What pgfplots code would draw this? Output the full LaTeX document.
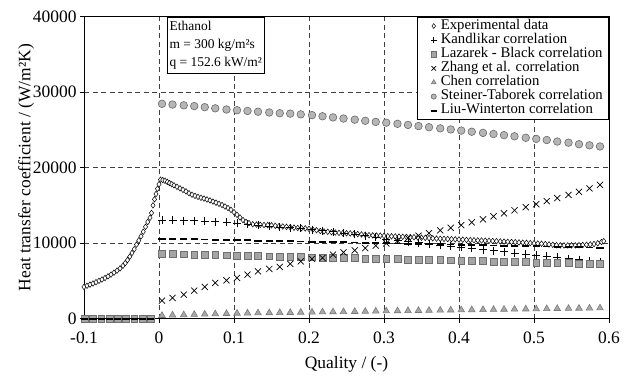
\documentclass[border=0pt]{standalone}
\usepackage{fontspec}
\setmainfont{Liberation Serif}
\usepackage{pgfplots}
\usepackage{pgfplotstable}
\pgfplotsset{compat=1.18}

\definecolor{sqfill}{HTML}{A4A4A4}
\definecolor{sqdraw}{HTML}{6E6E6E}
\definecolor{cifill}{HTML}{B6B6B6}
\definecolor{cidraw}{HTML}{6A6A6A}
\definecolor{trfill}{HTML}{A8A8A8}
\definecolor{trdraw}{HTML}{7A7A7A}

% experimental data
\pgfplotstableread{
x y
-0.100 4200
-0.096 4350
-0.092 4500
-0.088 4650
-0.084 4820
-0.080 5000
-0.076 5180
-0.072 5380
-0.068 5600
-0.064 5830
-0.060 6080
-0.056 6350
-0.052 6650
-0.048 7000
-0.045 7350
-0.042 7750
-0.039 8200
-0.036 8700
-0.033 9200
-0.030 9800
-0.027 10350
-0.024 10900
-0.021 11500
-0.018 12150
-0.015 12800
-0.012 13350
-0.010 14000
-0.008 15000
-0.006 15800
-0.004 16500
-0.002 17200
0.000 17800
0.002 18400
0.005 18350
0.008 18250
0.011 18100
0.014 17950
0.017 17800
0.020 17650
0.024 17450
0.028 17250
0.032 17050
0.036 16850
0.040 16600
0.044 16400
0.048 16250
0.052 16120
0.056 16000
0.060 15900
0.064 15780
0.068 15650
0.072 15500
0.076 15350
0.080 15200
0.084 15050
0.088 14850
0.092 14650
0.096 14400
0.100 14100
0.104 13750
0.108 13400
0.112 13050
0.116 12800
0.120 12650
0.125 12500
0.130 12450
0.135 12420
0.140 12400
0.145 12380
0.150 12350
0.155 12300
0.160 12250
0.165 12200
0.170 12150
0.175 12100
0.180 12050
0.185 12000
0.190 11980
0.195 11950
0.200 11880
0.205 11800
0.210 11700
0.215 11600
0.220 11550
0.225 11500
0.230 11450
0.235 11400
0.240 11350
0.245 11300
0.250 11300
0.255 11280
0.260 11250
0.265 11200
0.270 11150
0.275 11100
0.280 11050
0.285 11030
0.290 11000
0.295 10980
0.300 10950
0.305 10920
0.310 10900
0.315 10880
0.320 10860
0.325 10840
0.330 10820
0.335 10800
0.340 10780
0.345 10750
0.350 10720
0.355 10690
0.360 10660
0.365 10630
0.370 10600
0.375 10580
0.380 10560
0.385 10540
0.390 10520
0.395 10500
0.400 10480
0.405 10450
0.410 10420
0.415 10400
0.420 10380
0.425 10360
0.430 10340
0.435 10320
0.440 10300
0.445 10280
0.450 10250
0.455 10220
0.460 10200
0.465 10180
0.470 10150
0.475 10120
0.480 10090
0.485 10060
0.490 10030
0.495 10000
0.500 9980
0.505 9950
0.510 9920
0.515 9880
0.520 9830
0.525 9780
0.530 9730
0.535 9700
0.540 9690
0.545 9690
0.550 9700
0.555 9700
0.560 9720
0.565 9750
0.570 9780
0.575 9820
0.580 9880
0.585 9980
0.590 10150
0.593 10250
}\expdata

% correlations
\pgfplotstableread{
x kand laz zhang chen steiner liu
-0.099 0 0 nan nan nan 0
-0.088 0 0 nan nan nan 0
-0.077 0 0 nan nan nan 0
-0.066 0 0 nan nan nan 0
-0.055 0 0 nan nan nan 0
-0.044 0 0 nan nan nan 0
-0.033 0 0 nan nan nan 0
-0.022 0 0 nan nan nan 0
-0.011 0 0 nan nan nan 0
0.004 13050 8590 2380 400 28450 10590
0.018 13000 8560 2730 450 28350 10560
0.033 12980 8520 3170 500 28250 10530
0.047 12950 8490 3700 540 28150 10500
0.061 12900 8460 4190 580 28000 10480
0.075 12850 8430 4720 620 27850 10450
0.090 12750 8390 5070 660 27700 10420
0.104 12650 8360 5380 700 27600 10390
0.118 12500 8330 5820 720 27500 10360
0.132 12400 8300 6260 740 27400 10330
0.147 12250 8260 6570 760 27300 10300
0.161 12150 8230 6840 780 27200 10270
0.175 12050 8200 7240 800 27150 10240
0.189 11950 8160 7580 830 27050 10210
0.204 11800 8130 7900 850 26950 10180
0.218 11650 8100 8030 870 26800 10160
0.232 11500 8070 8470 890 26650 10130
0.246 11350 8030 8770 910 26500 10100
0.261 11200 8000 9030 930 26350 10070
0.275 11000 7970 9350 950 26200 10040
0.289 10800 7940 9660 980 26050 10010
0.303 10550 7900 9950 1000 25950 9980
0.318 10350 7870 10300 1020 25800 9950
0.332 10200 7840 10650 1040 25650 9920
0.346 10050 7800 10980 1060 25500 9890
0.360 9900 7770 11320 1080 25350 9860
0.375 9750 7740 11680 1100 25200 9840
0.389 9600 7710 12030 1120 25050 9810
0.403 9450 7670 12380 1140 24900 9780
0.417 9300 7640 12760 1160 24750 9750
0.432 9150 7610 13150 1180 24600 9720
0.446 9000 7570 13550 1200 24450 9690
0.460 8850 7540 13950 1220 24300 9660
0.474 8700 7510 14350 1240 24150 9630
0.489 8550 7480 14750 1260 23950 9600
0.503 8400 7440 15150 1280 23800 9570
0.517 8250 7410 15560 1300 23650 9550
0.531 8100 7380 15970 1320 23450 9520
0.546 7950 7340 16380 1340 23300 9490
0.560 7800 7310 16800 1360 23100 9460
0.574 7650 7280 17250 1380 22950 9430
0.588 7500 7250 17720 1400 22800 9400
}\corr

\begin{document}
\begin{tikzpicture}
\begin{axis}[
  scale only axis,
  width=525bp, height=302bp,
  xmin=-0.1, xmax=0.6, ymin=0, ymax=40000,
  clip=false,
  xtick={-0.1,0,0.1,0.2,0.3,0.4,0.5,0.6},
  xticklabels={-0.1,0,0.1,0.2,0.3,0.4,0.5,0.6},
  ytick={0,10000,20000,30000,40000},
  yticklabels={0,10000,20000,30000,40000},
  scaled ticks=false,
  xtick pos=left, ytick pos=left,
  tick align=outside,
  major tick length=4bp,
  tick style={black, line width=0.8bp},
  axis line style={line width=1bp},
  grid=major,
  major grid style={black!75, dash pattern=on 5bp off 3.5bp, line width=0.8bp},
  ticklabel style={font=\fontsize{17.5}{18}\selectfont},
  xticklabel style={yshift=-6bp},
  label style={font=\fontsize{17.5}{18}\selectfont},
  xlabel={Quality / (-)},
  ylabel={Heat transfer coefficient / (W/m²K)},
  xlabel style={yshift=-6bp},
  ylabel style={yshift=-8bp},
  legend cell align=left,
  legend image code/.code={%
    \path[draw=none, fill=none] (0cm,0cm) -- (0.62cm,0cm);
    \path[#1] plot[only marks] coordinates {(0.4cm,0cm)};},
  legend style={at={(rel axis cs:1,1)}, anchor=north east,
    font=\fontsize{14.8}{15}\selectfont, draw=black, line width=0.8bp,
    inner xsep=5bp, inner ysep=2bp, row sep=0pt,
    nodes={inner sep=0.8bp, text height=9.3bp, text depth=3.2bp}},
]
\coordinate (SW) at (rel axis cs:0,0);
\coordinate (NE) at (rel axis cs:1,1);

\addplot[forget plot, only marks, mark=diamond*, mark size=2.8bp,
  mark options={fill=white, draw=black, line width=0.5bp}]
  table[x=x, y=y] {\expdata};
\addplot[forget plot, only marks, mark=+, mark size=4bp,
  mark options={draw=black, line width=0.7bp}]
  table[x=x, y=kand] {\corr};
\addplot[forget plot, only marks, mark=square*, mark size=3.4bp,
  mark options={fill=sqfill, draw=sqdraw, line width=0.6bp}]
  table[x=x, y=laz] {\corr};
\addplot[forget plot, only marks, mark=x, mark size=4.3bp,
  mark options={draw=black, line width=0.7bp}]
  table[x=x, y=zhang] {\corr};
\addplot[forget plot, only marks, mark=triangle*, mark size=3.8bp,
  mark options={fill=trfill, draw=trdraw, line width=0.6bp}]
  table[x=x, y=chen] {\corr};
\addplot[forget plot, only marks, mark=*, mark size=3.8bp,
  mark options={fill=cifill, draw=cidraw, line width=0.6bp}]
  table[x=x, y=steiner] {\corr};
\addplot[forget plot, only marks, mark=-, mark size=3.6bp,
  mark options={draw=black, line width=1.8bp}]
  table[x=x, y=liu] {\corr};

\addlegendimage{only marks, mark=diamond*, mark size=2.4bp,
  mark options={fill=white, draw=black, line width=0.5bp}}
\addlegendentry{Experimental data}
\addlegendimage{only marks, mark=+, mark size=3.2bp,
  mark options={draw=black, line width=0.7bp}}
\addlegendentry{Kandlikar correlation}
\addlegendimage{only marks, mark=square*, mark size=2.6bp,
  mark options={fill=sqfill, draw=sqdraw, line width=0.6bp}}
\addlegendentry{Lazarek - Black correlation}
\addlegendimage{only marks, mark=x, mark size=3.2bp,
  mark options={draw=black, line width=0.7bp}}
\addlegendentry{Zhang et al. correlation}
\addlegendimage{only marks, mark=triangle*, mark size=2.8bp,
  mark options={fill=trfill, draw=trdraw, line width=0.6bp}}
\addlegendentry{Chen correlation}
\addlegendimage{only marks, mark=*, mark size=2.6bp,
  mark options={fill=cifill, draw=cidraw, line width=0.6bp}}
\addlegendentry{Steiner-Taborek correlation}
\addlegendimage{only marks, mark=-, mark size=3bp,
  mark options={draw=black, line width=1.8bp}}
\addlegendentry{Liu-Winterton correlation}

\node[draw=black, fill=white, line width=0.8bp, anchor=north west,
  align=left, inner xsep=2bp, inner ysep=4bp,
  font=\fontsize{13.5}{18}\selectfont]
  at (axis cs:0.011,40000)
  {Ethanol\\m = 300 kg/m²s\\q = 152.6 kW/m²};
\end{axis}
\path (SW) ++(-84bp,-56bp) coordinate (BL);
\path (NE) ++(22bp,16.6bp) coordinate (TR);
\path (BL) rectangle (TR);
\end{tikzpicture}
\end{document}
